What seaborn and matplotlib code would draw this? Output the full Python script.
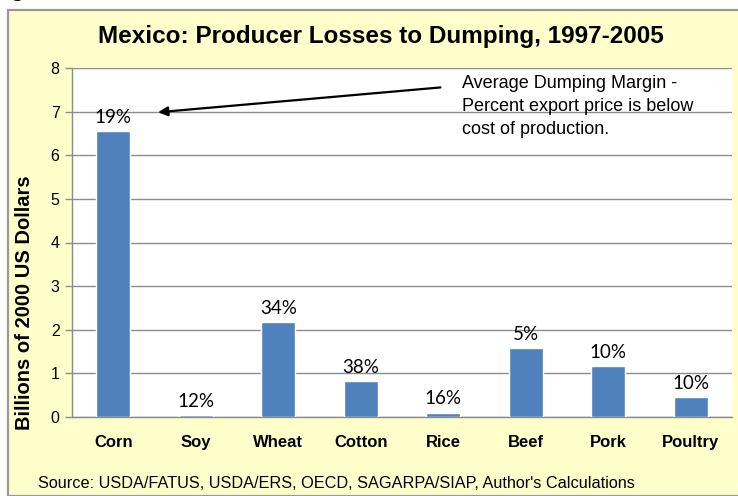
import matplotlib
matplotlib.use("Agg")
import matplotlib.pyplot as plt
import seaborn as sns
import pandas as pd
from matplotlib.patches import Rectangle

categories = ["Corn", "Soy", "Wheat", "Cotton", "Rice", "Beef", "Pork", "Poultry"]
losses = [6.56, 0.05, 2.18, 0.83, 0.10, 1.58, 1.17, 0.46]
margins = ["19%", "12%", "34%", "38%", "16%", "5%", "10%", "10%"]
yticks = [0, 1, 2, 3, 4, 5, 6, 7, 8]

df = pd.DataFrame({"crop": categories, "loss": losses})

sns.set_theme(style="white")
plt.rcParams["font.family"] = ["Liberation Sans", "DejaVu Sans"]
plt.rcParams["text.color"] = "black"
plt.rcParams["xtick.color"] = "black"
plt.rcParams["ytick.color"] = "black"

W, H = 738, 496
fig = plt.figure(figsize=(W / 100, H / 100), dpi=100, facecolor="white")

# cream panel
panel = Rectangle((8 / W, 0), 1 - 8 / W + 0.01, (H - 10) / H, transform=fig.transFigure,
                  facecolor="#FFFFCC", edgecolor="#9A9A9A", linewidth=1.6, zorder=0)
fig.patches.append(panel)
fig.text(18 / W, 1 + 12 / H, "g", fontsize=20, ha="center", va="center", color="black")

ax = fig.add_axes([72 / W, (H - 417) / H, 660 / W, 349 / H])
ax.set_zorder(2)
ax.set_facecolor("white")
sns.barplot(data=df, x="crop", y="loss", color="#4F81BD", saturation=1, width=0.41, ax=ax, zorder=3)

ax.set_ylim(0, 8)
ax.set_yticks(yticks)
ax.set_yticklabels([str(t) for t in yticks], fontsize=11.5, color="black")
ax.set_xlim(-0.5, len(categories) - 0.5)
ax.yaxis.grid(True, color="#8C8C8C", linewidth=1.0, zorder=0)
ax.set_axisbelow(True)
for s in ["top", "right"]:
    ax.spines[s].set_visible(False)
for s in ["left", "bottom"]:
    ax.spines[s].set_color("#8C8C8C")
    ax.spines[s].set_linewidth(1.0)

ax.set_xticks(range(len(categories)))
ax.set_xticklabels(categories, fontsize=12, fontweight="bold", color="black")
ax.tick_params(axis="x", length=0, pad=13)
ax.set_xticks([i + 0.5 for i in range(-1, len(categories))], minor=True)
ax.tick_params(axis="x", which="minor", length=5, color="#8C8C8C", width=1)
ax.tick_params(axis="y", length=5, color="#8C8C8C", width=1, left=True, pad=4)
ax.set_xlabel("")
ax.set_ylabel("")

for i, (v, m) in enumerate(zip(losses, margins)):
    ax.text(i, v + 0.12, m, ha="center", va="bottom", fontsize=13.5,
            family=["Lato", "DejaVu Sans"], color="black")

ax.annotate("", xy=(0.51, 6.98), xytext=(4.0, 7.56),
            arrowprops=dict(arrowstyle="-|>", color="black", lw=1.6, mutation_scale=14))
ax.text(4.23, 7.83, "Average Dumping Margin -\nPercent export price is below\ncost of production.",
        ha="left", va="top", fontsize=13, linespacing=1.45, zorder=5, color="black")

fig.text(381 / W, 1 - 37 / H, "Mexico: Producer Losses to Dumping, 1997-2005",
         ha="center", va="center", fontsize=17.5, fontweight="bold", color="black")
fig.text(25 / W, 1 - 303 / H, "Billions of 2000 US Dollars", rotation=90,
         ha="center", va="center", fontsize=14.5, fontweight="bold", color="black")
fig.text(38 / W, 1 - 483 / H, "Source: USDA/FATUS, USDA/ERS, OECD, SAGARPA/SIAP, Author's Calculations",
         ha="left", va="center", fontsize=11.7, color="black")

fig.savefig("out.png", dpi=100, facecolor="white")
